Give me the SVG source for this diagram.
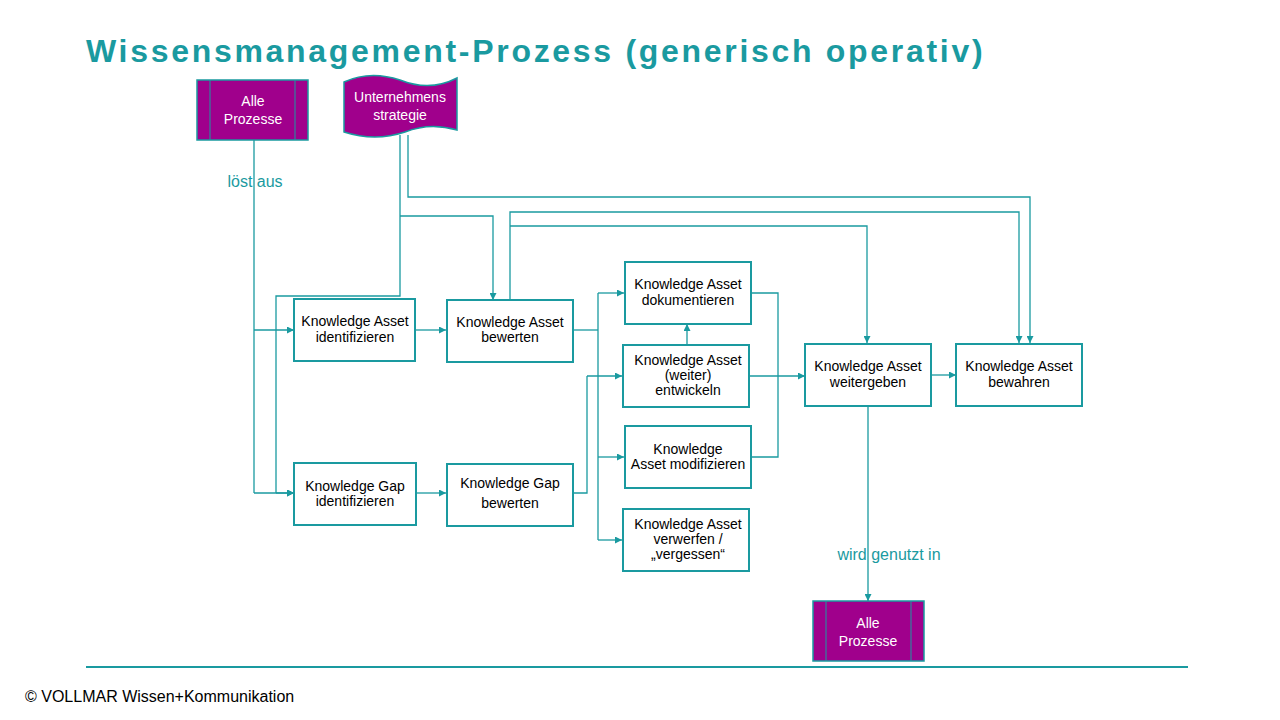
<svg xmlns="http://www.w3.org/2000/svg" width="1280" height="720" viewBox="0 0 1280 720">
<style>
.b{fill:#fff;stroke:#1a9aa0;stroke-width:2}
.t{font-family:"Liberation Sans",Arial,sans-serif;font-size:14px;fill:#000;text-anchor:middle}
.w{font-family:"Liberation Sans",Arial,sans-serif;font-size:14px;fill:#fff;text-anchor:middle}
.l{font-family:"Liberation Sans",Arial,sans-serif;font-size:16px;fill:#1a9aa0;text-anchor:middle}
.c path{fill:none;stroke:#1a9aa0;stroke-width:1.3;marker-end:url(#a)}
.c path.n{marker-end:none}
.m{fill:#a0008c;stroke:#1a9aa0;stroke-width:1.5}
</style>
<defs><marker id="a" viewBox="0 0 10 10" refX="10" refY="5" markerWidth="7" markerHeight="7" orient="auto" markerUnits="userSpaceOnUse"><path d="M0,0L10,5L0,10z" fill="#1a9aa0"/></marker></defs>
<rect width="1280" height="720" fill="#fff"/>
<text x="86" y="62" font-family="'Liberation Sans',Arial,sans-serif" font-size="32" font-weight="bold" fill="#1a9aa0" letter-spacing="2.7">Wissensmanagement-Prozess (generisch operativ)</text>
<line x1="86" y1="667" x2="1188" y2="667" stroke="#1a9aa0" stroke-width="2"/>
<text x="25" y="702" font-family="'Liberation Sans',Arial,sans-serif" font-size="16" fill="#000">© VOLLMAR Wissen+Kommunikation</text>
<g class="c">
<path class="n" d="M254,140V493"/><path d="M254,330H294"/><path d="M254,493H294"/>
<path class="n" d="M400,135V296H276V493"/><path d="M276,493H294"/>
<path d="M400,216H493V300"/>
<path d="M408,135V197H1030V343"/>
<path d="M510,299V212H1019V343"/>
<path d="M510,226H867V343"/>
<path d="M416,330H446"/><path d="M416,493H446"/>
<path class="n" d="M573,330H598"/><path class="n" d="M598,293V540"/>
<path d="M598,293H624"/><path d="M598,457H624"/><path d="M598,540H622"/>
<path class="n" d="M573,493H587V376"/><path d="M587,376H622"/>
<path d="M687,344V324"/>
<path class="n" d="M751,293H778V457H751"/>
<path d="M749,376H805"/>
<path d="M931,375H956"/>
<path d="M868,406V601"/>
</g>
<g id="n1"><rect class="m" x="197" y="80" width="111" height="60"/><line x1="210" y1="80" x2="210" y2="140" stroke="#1a9aa0"/><line x1="295" y1="80" x2="295" y2="140" stroke="#1a9aa0"/><text class="w" x="253" y="106">Alle</text><text class="w" x="253" y="124">Prozesse</text></g>
<g id="n2"><path class="m" d="M344,82Q370,70 400,80Q430,92 457,78V130Q430,122 405,132Q375,142 344,132Z"/><text class="w" x="400" y="102" font-size="13">Unternehmens</text><text class="w" x="400" y="120" font-size="13">strategie</text></g>
<g id="n3"><rect class="b" x="294" y="299" width="121" height="62"/><text class="t" x="355" y="326">Knowledge Asset</text><text class="t" x="355" y="342">identifizieren</text></g>
<g id="n4"><rect class="b" x="447" y="300" width="126" height="62"/><text class="t" x="510" y="327">Knowledge Asset</text><text class="t" x="510" y="342">bewerten</text></g>
<g id="n5"><rect class="b" x="294" y="463" width="122" height="62"/><text class="t" x="355" y="491">Knowledge Gap</text><text class="t" x="355" y="506">identifizieren</text></g>
<g id="n6"><rect class="b" x="447" y="464" width="126" height="62"/><text class="t" x="510" y="488">Knowledge Gap</text><text class="t" x="510" y="508">bewerten</text></g>
<g id="n7"><rect class="b" x="625" y="262" width="126" height="62"/><text class="t" x="688" y="289">Knowledge Asset</text><text class="t" x="688" y="305">dokumentieren</text></g>
<g id="n8"><rect class="b" x="623" y="345" width="126" height="62"/><text class="t" x="688" y="365">Knowledge Asset</text><text class="t" x="688" y="380">(weiter)</text><text class="t" x="688" y="395">entwickeln</text></g>
<g id="n9"><rect class="b" x="625" y="426" width="126" height="62"/><text class="t" x="688" y="454">Knowledge</text><text class="t" x="688" y="469">Asset  modifizieren</text></g>
<g id="n10"><rect class="b" x="623" y="509" width="126" height="62"/><text class="t" x="688" y="529">Knowledge Asset</text><text class="t" x="688" y="544">verwerfen /</text><text class="t" x="688" y="559">„vergessen“</text></g>
<g id="n11"><rect class="b" x="805" y="344" width="126" height="62"/><text class="t" x="868" y="371">Knowledge Asset</text><text class="t" x="868" y="387">weitergeben</text></g>
<g id="n12"><rect class="b" x="956" y="344" width="126" height="62"/><text class="t" x="1019" y="371">Knowledge Asset</text><text class="t" x="1019" y="387">bewahren</text></g>
<g id="n13"><rect class="m" x="813" y="601" width="111" height="60"/><line x1="826" y1="601" x2="826" y2="661" stroke="#1a9aa0"/><line x1="911" y1="601" x2="911" y2="661" stroke="#1a9aa0"/><text class="w" x="868" y="628">Alle</text><text class="w" x="868" y="646">Prozesse</text></g>
<text class="l" x="255" y="187">löst aus</text>
<text class="l" x="889" y="560">wird genutzt in</text>
</svg>
